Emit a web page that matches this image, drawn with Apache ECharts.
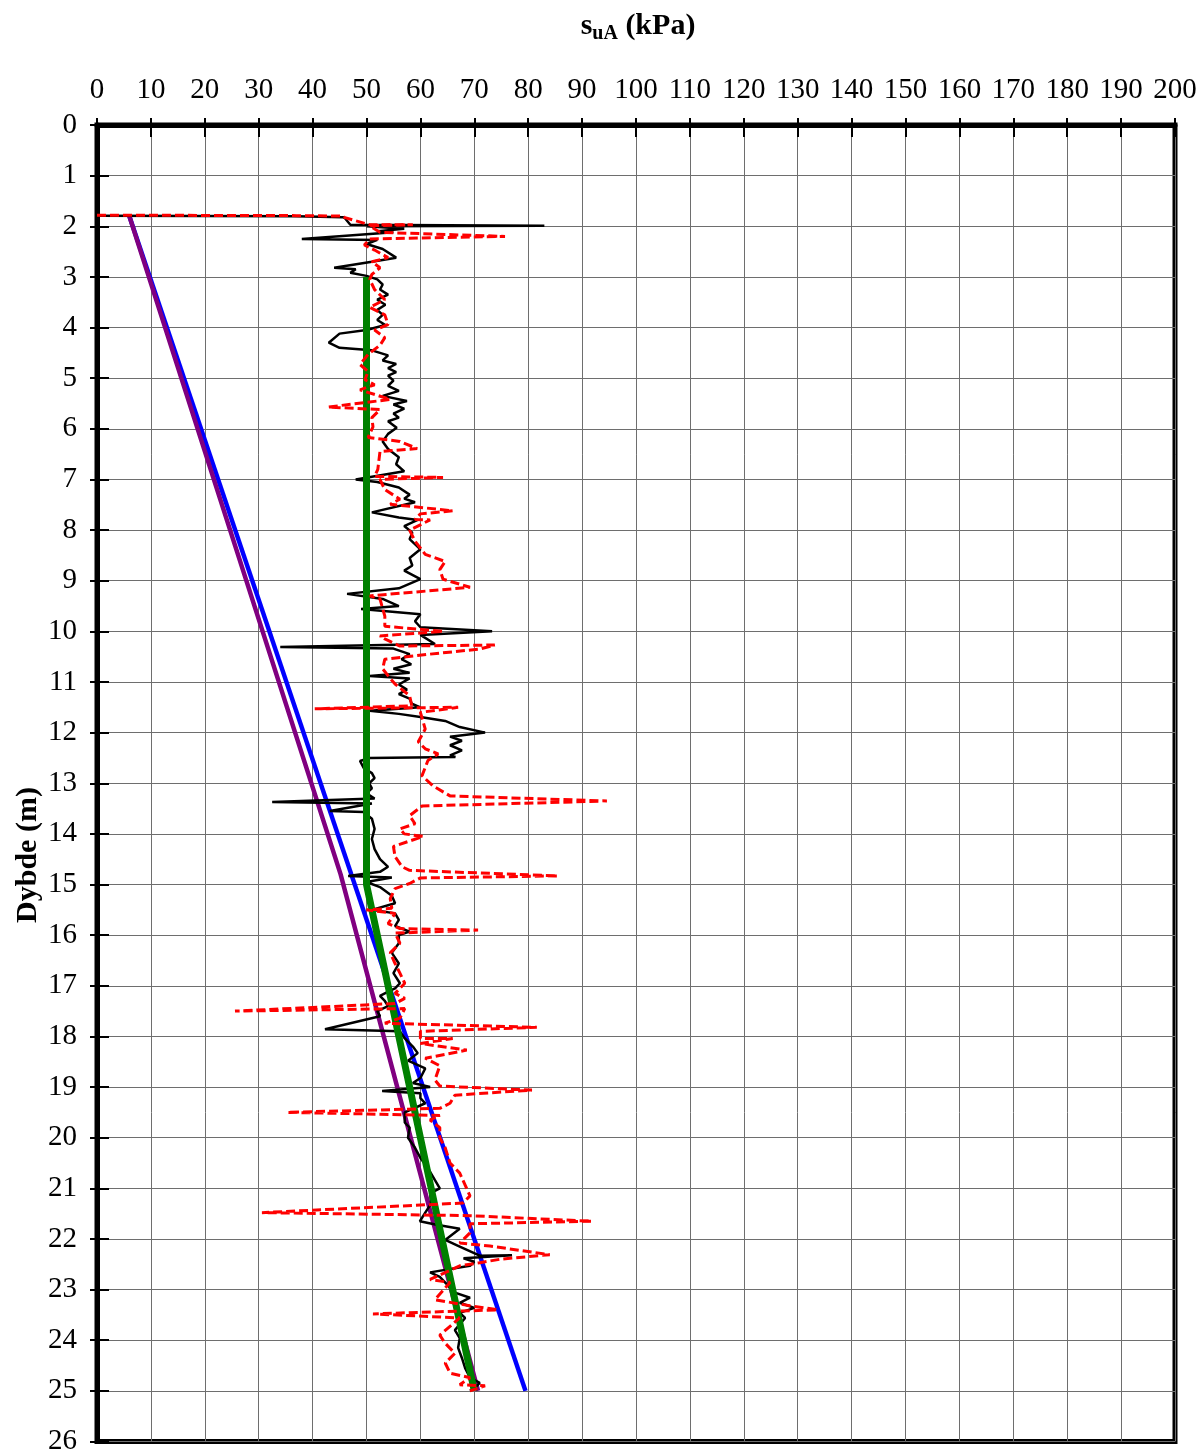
<!DOCTYPE html>
<html>
<head>
<meta charset="utf-8">
<script src="https://cdn.jsdelivr.net/npm/echarts@6/dist/echarts.min.js"></script>
<style>
html,body{margin:0;padding:0;background:#fff;}
#c{width:1200px;height:1456px;}
</style>
</head>
<body>
<div id="c"></div>
<script>
// ---- data: [s_uA (kPa), depth (m)] ----
const xTicks = [0,10,20,30,40,50,60,70,80,90,100,110,120,130,140,150,160,170,180,190,200];
const depthTicks = [0,1,2,3,4,5,6,7,8,9,10,11,12,13,14,15,16,17,18,19,20,21,22,23,24,25,26];

const blackProfile = [[0,1.79],[37,1.8],[45.6,1.82],[46,1.84],[47,1.97],[83,1.99],[50,2.0],[57,2.05],[52,2.1],[55,2.12],[38,2.25],[52,2.27],[50,2.35],[53,2.45],[55.5,2.62],[51,2.7],[44,2.82],[48,2.85],[47,2.92],[50,2.98],[52,3.05],[53,3.15],[52.5,3.25],[54,3.35],[52,3.45],[53.5,3.55],[52,3.65],[53,3.75],[52,3.85],[53.5,3.95],[50,4.05],[45,4.12],[43,4.3],[45,4.4],[51,4.45],[54,4.55],[53,4.65],[55.5,4.72],[54,4.8],[55.5,4.88],[54,4.95],[55,5.05],[54,5.15],[56,5.25],[53,5.35],[57.5,5.45],[55,5.52],[57,5.6],[55,5.7],[56,5.78],[54,5.85],[55.6,5.98],[54,6.1],[53,6.25],[54,6.4],[56,6.56],[55.5,6.7],[57,6.84],[48,7.0],[52,7.05],[56,7.16],[58,7.3],[57,7.38],[59,7.45],[51,7.65],[56,7.75],[59.5,7.8],[57,7.92],[58.5,8.05],[58,8.18],[60,8.38],[58,8.55],[58.5,8.7],[57,8.8],[60,8.97],[56,9.15],[46.4,9.26],[53,9.36],[56,9.5],[49,9.56],[60,9.66],[59,9.8],[60,9.92],[73.3,10.0],[60,10.07],[62.7,10.25],[34,10.31],[55,10.34],[58,10.45],[56.5,10.55],[58.3,10.65],[55,10.74],[58,10.82],[50.6,10.88],[58,10.93],[56,11.05],[57.5,11.15],[56,11.24],[58,11.33],[58.4,11.43],[60,11.5],[50.6,11.57],[56,11.63],[60,11.69],[64.6,11.77],[67.3,11.89],[72,12.0],[65.5,12.08],[67.7,12.16],[65.5,12.25],[67.7,12.35],[65.5,12.45],[66.5,12.48],[50.6,12.5],[48.8,12.56],[49.5,12.7],[51,12.8],[51.5,12.9],[50.5,13.0],[51,13.1],[50,13.2],[51.5,13.3],[32.5,13.37],[51,13.4],[43.2,13.55],[49.5,13.57],[51,13.7],[51.5,13.9],[51,14.1],[51.5,14.3],[52.5,14.5],[54,14.65],[52.5,14.75],[46.6,14.83],[54.7,14.86],[50,14.95],[52.5,15.05],[54.7,15.22],[55.3,15.37],[51,15.5],[55.3,15.57],[56,15.7],[55.3,15.82],[58,15.93],[56,16.0],[56,16.16],[54.7,16.35],[56,16.56],[55,16.75],[56.2,16.95],[55.3,17.05],[54.3,17.1],[52.5,17.2],[53.4,17.3],[54,17.4],[52,17.5],[52.5,17.6],[42.3,17.86],[56.2,17.9],[57.1,18.04],[58.6,18.2],[59.5,18.33],[57.7,18.48],[60.9,18.63],[60,18.82],[58.6,18.92],[61.8,19.0],[52.9,19.08],[60,19.12],[60,19.22],[60.9,19.32],[57.1,19.5],[57.1,19.7],[58,19.8],[57.7,20.0],[59,20.2],[60,20.4],[61.4,20.6],[62.7,20.84],[63.6,21.0],[61.8,21.1],[62,21.3],[60.9,21.48],[59.9,21.65],[63,21.72],[67.3,21.8],[64.6,22.02],[67.3,22.15],[71,22.33],[77,22.32],[68,22.38],[70,22.45],[69.2,22.53],[61.8,22.66],[63.6,22.75],[65.5,22.96],[66.4,23.06],[69.2,23.16],[67.3,23.26],[70,23.36],[67.3,23.46],[68.3,23.56],[66.4,23.8],[67.3,23.96],[67,24.15],[67.7,24.35],[68.3,24.55],[69.2,24.74],[71,24.84],[70.1,24.94],[69.2,25.0]];

const redProfile = [[0,1.78],[37,1.79],[45.6,1.8],[46,1.83],[50.6,1.97],[58.6,1.97],[50.6,1.99],[52.5,2.12],[75.7,2.2],[50.6,2.25],[49.6,2.37],[51.5,2.47],[54,2.62],[51,2.7],[52.5,2.82],[51,2.95],[50.6,3.05],[51.5,3.25],[53.4,3.45],[50.6,3.6],[53.4,3.75],[54,3.94],[51.5,4.05],[53.4,4.2],[52.5,4.35],[50.3,4.53],[48.8,4.73],[50.3,4.87],[49.7,5.03],[51.5,5.13],[48.8,5.23],[54.4,5.42],[42.9,5.57],[52.5,5.62],[51,5.78],[51.2,5.96],[50.3,6.17],[56.2,6.25],[59.4,6.39],[52.5,6.45],[52.1,6.8],[51.5,6.94],[64.2,6.96],[52.5,7.0],[53.4,7.2],[56.2,7.39],[54.4,7.49],[66,7.62],[60,7.68],[59,7.79],[61.8,7.8],[58,8.0],[59,8.22],[60.9,8.48],[64.6,8.62],[63.6,8.78],[64.2,8.97],[69.2,9.13],[50.6,9.3],[52.5,9.36],[53.4,9.7],[53.4,9.9],[64.2,10.0],[52.5,10.09],[53.4,10.15],[56.2,10.29],[73.8,10.27],[71,10.35],[61.8,10.45],[53.4,10.55],[53,10.74],[54.4,10.93],[55.3,11.04],[58,11.27],[58.4,11.47],[40.4,11.53],[67,11.5],[60,11.6],[60.9,11.93],[59.6,12.18],[60.9,12.32],[63.3,12.42],[61.4,12.55],[60.3,12.85],[62.3,13.05],[65.5,13.25],[94.6,13.35],[60.3,13.45],[58,13.64],[59,13.8],[56.2,13.9],[57,14.0],[60.5,14.05],[55,14.25],[55.3,14.45],[56.6,14.65],[58,14.72],[85.5,14.83],[60,14.87],[58,14.98],[55.3,15.08],[54.4,15.28],[54.7,15.47],[50,15.5],[55.3,15.57],[54,15.77],[56.2,15.87],[70.7,15.9],[55.3,15.96],[56.2,16.16],[54.4,16.35],[55.3,16.56],[56.2,16.75],[57.1,16.95],[55.3,17.15],[57.1,17.25],[55.3,17.35],[25.6,17.5],[57.1,17.45],[56.2,17.64],[53.4,17.74],[81.6,17.82],[60,17.9],[60,18.04],[66,18.04],[60,18.14],[68.6,18.27],[60.9,18.43],[63.6,18.58],[62.7,18.86],[63.6,18.98],[80.7,19.06],[66.4,19.16],[65.5,19.32],[63.6,19.42],[35.3,19.5],[63.6,19.56],[61.8,19.65],[63.6,19.8],[63.6,20.0],[64.6,20.2],[65.5,20.5],[67.3,20.7],[69.2,21.15],[67.9,21.29],[30.6,21.48],[69.2,21.54],[91.8,21.65],[69.2,21.7],[69.2,21.88],[67.3,22.08],[72.9,22.14],[84,22.31],[74.8,22.4],[71,22.47],[67.3,22.53],[61.8,22.8],[65.5,22.86],[62.7,23.2],[69.2,23.32],[74.4,23.4],[51.2,23.48],[67.3,23.56],[63.6,23.9],[64.6,24.06],[66.4,24.26],[64.6,24.45],[65.5,24.65],[69.2,24.74],[67.3,24.88],[72,24.9],[69.2,25.0]];

const blueLine = [[6,1.8],[79.5,25]];
const purpleLine = [[6,1.8],[45.2,14.8],[70.7,25]];
const greenLine = [[50,3.0],[50,15.0],[70,25]];

const FONT = 'Liberation Serif';
const chart = echarts.init(document.getElementById('c'), null, {renderer:'canvas'});

const xBase = {type:'value', min:0, max:200, interval:10, position:'top'};
const yBase = {type:'value', min:0, max:26, interval:1, inverse:true};

chart.setOption({
  animation:false,
  backgroundColor:'#fff',
  grid:{left:97, right:25, top:125, bottom:12, show:true, borderColor:'#000', borderWidth:5, backgroundColor:'transparent'},
  xAxis:[
    Object.assign({}, xBase, {
      axisLine:{show:true, lineStyle:{color:'#000', width:5}},
      axisTick:{show:true, inside:false, length:7, lineStyle:{color:'#000', width:2}},
      axisLabel:{show:true, margin:20, color:'#000', fontFamily:FONT, fontSize:29,
        formatter:v=> xTicks.indexOf(v)>=0 ? String(v) : ''},
      splitLine:{show:true, lineStyle:{color:'#6e6e6e', width:1}}
    }),
    Object.assign({}, xBase, {
      axisLine:{show:false},
      axisTick:{show:true, inside:true, length:12, lineStyle:{color:'#000', width:2}},
      axisLabel:{show:false}, splitLine:{show:false}
    })
  ],
  yAxis:[
    Object.assign({}, yBase, {
      axisLine:{show:true, lineStyle:{color:'#000', width:5}},
      axisTick:{show:true, inside:false, length:7, lineStyle:{color:'#000', width:2}},
      axisLabel:{show:true, margin:20, color:'#000', fontFamily:FONT, fontSize:29,
        formatter:v=> depthTicks.indexOf(v)>=0 ? String(v) : ''},
      splitLine:{show:true, lineStyle:{color:'#6e6e6e', width:1}}
    }),
    Object.assign({}, yBase, {
      position:'left',
      axisLine:{show:false},
      axisTick:{show:true, inside:true, length:12, lineStyle:{color:'#000', width:2}},
      axisLabel:{show:false}, splitLine:{show:false}
    })
  ],
  graphic:[
    {type:'text', x:638, y:26, style:{
      text:'{b|s}{sub|uA}{b| (kPa)}', align:'center', verticalAlign:'middle',
      rich:{
        b:{fontFamily:FONT, fontWeight:'bold', fontSize:30, fill:'#000'},
        sub:{fontFamily:FONT, fontWeight:'bold', fontSize:20, fill:'#000', padding:[15,0,0,0]}
      }}},
    {type:'text', x:28, y:855, rotation:Math.PI/2, style:{
      text:'Dybde (m)', align:'center', verticalAlign:'middle',
      fontFamily:FONT, fontWeight:'bold', fontSize:30, fill:'#000'}}
  ],
  series:[
    {type:'line', data:blueLine, showSymbol:false, lineStyle:{color:'#0000ff', width:4.5}, z:2},
    {type:'line', data:purpleLine, showSymbol:false, lineStyle:{color:'#800080', width:4.5}, z:3},
    {type:'line', data:blackProfile, showSymbol:false, lineStyle:{color:'#000', width:2.5}, z:4},
    {type:'line', data:greenLine, showSymbol:false, lineStyle:{color:'#008000', width:7}, z:5},
    {type:'line', data:redProfile, showSymbol:false, lineStyle:{color:'#ff0000', width:3, type:[9,4]}, z:6}
  ]
});
</script>
</body>
</html>
